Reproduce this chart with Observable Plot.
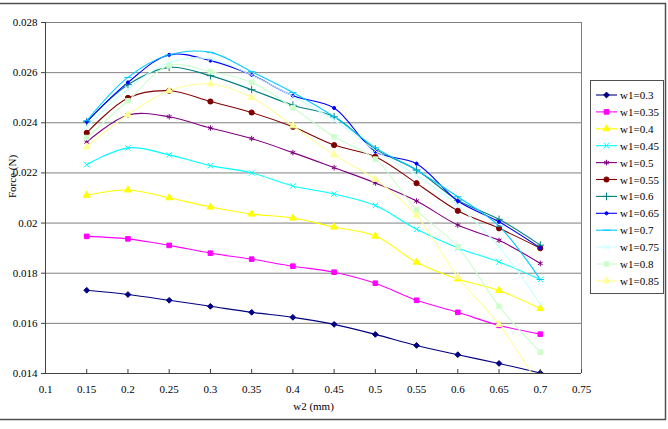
<!DOCTYPE html>
<html>
<head>
<meta charset="utf-8">
<script src="https://cdn.jsdelivr.net/npm/d3@7"></script>
<script src="https://cdn.jsdelivr.net/npm/@observablehq/plot@0.6"></script>
<style>
  body { margin: 0; background: #fff; }
  #chart { width: 668px; height: 429px; }
  #chart svg, #chart svg text { font-family: "Liberation Serif", "Times New Roman", serif !important; }
</style>
</head>
<body>
<div id="chart"></div>
<script>
// w2 sweep (mm)
const w2 = [0.15, 0.2, 0.25, 0.3, 0.35, 0.4, 0.45, 0.5, 0.55, 0.6, 0.65, 0.7];

// Force (N) for each w1
const f_030 = [0.01732, 0.01715, 0.01692, 0.01668, 0.01644, 0.01624, 0.01596, 0.01556, 0.01512, 0.01475, 0.01440, 0.01402];
const f_035 = [0.01947, 0.01937, 0.01911, 0.01880, 0.01856, 0.01828, 0.01804, 0.01760, 0.01692, 0.01644, 0.01592, 0.01557];
const f_040 = [0.02111, 0.02132, 0.02101, 0.02064, 0.02036, 0.02020, 0.01984, 0.01948, 0.01844, 0.01777, 0.01731, 0.01659];
const f_045 = [0.02233, 0.02300, 0.02272, 0.02229, 0.02200, 0.02148, 0.02116, 0.02070, 0.01975, 0.01901, 0.01845, 0.01775];
const f_050 = [0.02323, 0.02431, 0.02424, 0.02379, 0.02337, 0.02281, 0.02221, 0.02160, 0.02088, 0.01992, 0.01931, 0.01839];
const f_055 = [0.02360, 0.02499, 0.02528, 0.02485, 0.02441, 0.02384, 0.02311, 0.02265, 0.02159, 0.02049, 0.01979, 0.01900];
const f_060 = [0.02404, 0.02552, 0.02621, 0.02588, 0.02532, 0.02470, 0.02424, 0.02295, 0.02212, 0.02091, 0.02015, 0.01912];
const f_065 = [0.02404, 0.02561, 0.02671, 0.02648, 0.02591, 0.02508, 0.02459, 0.02285, 0.02237, 0.02088, 0.02005, 0.01901];
const f_070 = [0.02408, 0.02581, 0.02671, 0.02681, 0.02604, 0.02521, 0.02424, 0.02301, 0.02211, 0.02105, 0.01988, 0.01775];
const f_075 = [0.02385, 0.02535, 0.02640, 0.02655, 0.02590, 0.02505, 0.02410, 0.02290, 0.02190, 0.02070, 0.01905, 0.01677];
const f_080 = [0.02341, 0.02488, 0.02628, 0.02604, 0.02561, 0.02460, 0.02344, 0.02255, 0.02052, 0.01905, 0.01668, 0.01485];
const f_085 = [0.02304, 0.02432, 0.02528, 0.02555, 0.02501, 0.02388, 0.02272, 0.02175, 0.02030, 0.01785, 0.01596, 0.01345];

const seriesNames = ["w1=0.3", "w1=0.35", "w1=0.4", "w1=0.45", "w1=0.5", "w1=0.55",
                     "w1=0.6", "w1=0.65", "w1=0.7", "w1=0.75", "w1=0.8", "w1=0.85"];
const seriesValues = [f_030, f_035, f_040, f_045, f_050, f_055, f_060, f_065, f_070, f_075, f_080, f_085];
const seriesColors = ["#000080", "#FF00FF", "#FFFF00", "#00FFFF", "#800080", "#800000",
                      "#008080", "#0000FF", "#00CCFF", "#CCFFFF", "#CCFFCC", "#FFFF99"];

// axis ticks
const xTicks = [0.1, 0.15, 0.2, 0.25, 0.3, 0.35, 0.4, 0.45, 0.5, 0.55, 0.6, 0.65, 0.7, 0.75];
const yTicks = [0.014, 0.016, 0.018, 0.02, 0.022, 0.024, 0.026, 0.028];

// marker shapes
const symDot = {draw(ctx, size) { const r = Math.sqrt(size / Math.PI) * 0.6; ctx.moveTo(r, 0); ctx.arc(0, 0, r, 0, 2 * Math.PI); }};
const symDash = {draw(ctx, size) { const r = Math.sqrt(size) * 0.8; ctx.moveTo(-r, 0); ctx.lineTo(r, 0); }};
const seriesSymbols = [d3.symbolDiamond2, d3.symbolSquare, d3.symbolTriangle, d3.symbolTimes, d3.symbolAsterisk, d3.symbolCircle,
                       d3.symbolPlus, symDot, symDash, d3.symbolTimes, d3.symbolSquare, d3.symbolTriangle];
const seriesFilled = [true, true, true, false, false, true, false, true, false, false, true, true];

const rows = seriesNames.flatMap((name, i) =>
  w2.map((x, j) => ({series: name, w2: x, force: seriesValues[i][j]})));

const fmt = d => String(+d.toFixed(3));
const serif = "'Liberation Serif', 'Times New Roman', serif";

const markerMarks = seriesNames.map((name, i) =>
  Plot.dot(rows.filter(d => d.series === name), {
    x: "w2", y: "force",
    symbol: seriesSymbols[i],
    r: 2.6,
    fill: seriesFilled[i] ? seriesColors[i] : "none",
    stroke: seriesColors[i],
    strokeWidth: 1,
    clip: true
  }));

const plot = Plot.plot({
  width: 668,
  height: 429,
  marginLeft: 45,
  marginRight: 87,
  marginTop: 22,
  marginBottom: 56,
  style: {fontFamily: serif, fontSize: "11px", background: "#fff", color: "#000"},
  x: {domain: [0.1, 0.75]},
  y: {domain: [0.014, 0.028]},
  color: {domain: seriesNames, range: seriesColors},
  marks: [
    Plot.gridY(yTicks, {stroke: "#808080", strokeOpacity: 1}),
    Plot.ruleX([0.75], {stroke: "#808080"}),
    Plot.line(rows, {x: "w2", y: "force", z: "series", stroke: "series", strokeWidth: 1.1, curve: "catmull-rom", clip: true}),
    ...markerMarks,
    Plot.ruleX([0.1], {stroke: "#404040"}),
    Plot.ruleY([0.014], {stroke: "#404040"}),
    Plot.axisY(yTicks, {tickSize: 4, tickPadding: 4, tickFormat: fmt, label: null, stroke: "#404040", fontSize: 11}),
    Plot.axisX(xTicks, {tickSize: -4, text: null, label: null, stroke: "#404040"}),
    Plot.axisX(xTicks, {tickSize: 0, tickPadding: 12, tickFormat: fmt, label: null, fontSize: 11}),
    Plot.text(["Force (N)"], {frameAnchor: "left", rotate: -90, dx: -33, fontSize: 11}),
    Plot.text(["w2 (mm)"], {frameAnchor: "bottom", dy: 36, fontSize: 11})
  ]
});

// outer chart border
const svg = d3.select(plot);
svg.append("path")
  .attr("d", "M0,3.5H665.5V419.5H0")
  .attr("fill", "none")
  .attr("stroke", "#505050")
  .attr("stroke-width", 1.5);

// legend
const lg = svg.append("g").attr("text-anchor", "start");
lg.append("rect")
  .attr("x", 590.5).attr("y", 80.5).attr("width", 73).attr("height", 213)
  .attr("fill", "#fff").attr("stroke", "#505050");
seriesNames.forEach((name, i) => {
  const y = 95 + i * 16.9;
  lg.append("line").attr("x1", 596).attr("x2", 617).attr("y1", y).attr("y2", y)
    .attr("stroke", seriesColors[i]).attr("stroke-width", 1.1);
  lg.append("path")
    .attr("transform", `translate(606.5,${y})`)
    .attr("d", d3.symbol(seriesSymbols[i], Math.PI * 2.6 * 2.6)())
    .attr("fill", seriesFilled[i] ? seriesColors[i] : "none")
    .attr("stroke", seriesColors[i]);
  lg.append("text").attr("x", 620).attr("y", y + 4)
    .attr("font-size", 11).attr("font-family", serif).attr("fill", "#000").text(name);
});

document.getElementById("chart").appendChild(plot);
</script>
</body>
</html>
